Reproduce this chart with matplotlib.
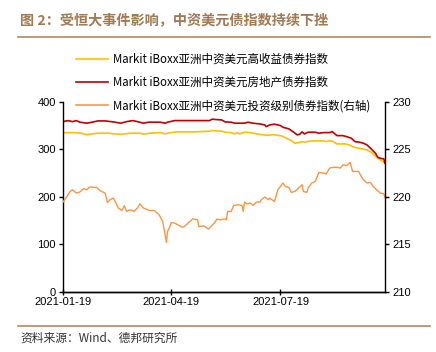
import matplotlib
matplotlib.use("Agg")
import matplotlib.pyplot as plt
import matplotlib.dates as mdates
from matplotlib.lines import Line2D
import pandas as pd

plt.rcParams['font.family'] = ['Noto Sans CJK SC', 'DejaVu Sans']

START = "2021-01-19"
END_DAY = 268

# Day offsets from START and index values
hy_day = [0, 10, 15, 20, 24, 29, 38, 43, 49, 56, 64, 67, 72, 81, 85, 87, 94, 108, 122, 124,
          132, 135, 140, 143, 145, 147, 151, 156, 161, 167, 170, 175, 182, 186, 190, 193, 196,
          199, 201, 206, 210, 217, 219, 222, 225, 228, 235, 238, 242, 249, 253, 257, 261, 265, 268]
hy_val = [335.4, 335.4, 334.2, 331.2, 332.7, 334.2, 334.2, 332.7, 332.1, 334.2, 334.2, 332.1,
          334.2, 335.4, 332.7, 334.2, 336.9, 336.9, 338.4, 339.7, 338.4, 336.3, 335.4, 332.7,
          335.4, 332.7, 336.3, 335.4, 332.7, 330.6, 329.7, 331.2, 328.5, 323.6, 318.6, 313.1,
          314.3, 316.5, 315.2, 318.0, 318.0, 318.0, 316.5, 318.6, 316.5, 311.6, 311.6, 309.5,
          304.6, 301.1, 299.0, 293.2, 283.5, 276.4, 270.9]

re_day = [0, 4, 8, 11, 14, 20, 24, 29, 35, 42, 48, 53, 58, 62, 67, 71, 76, 81, 85, 87, 93, 108,
          122, 124, 132, 135, 140, 143, 151, 154, 158, 164, 168, 169, 172, 176, 181, 183, 188,
          192, 195, 197, 199, 201, 204, 210, 213, 217, 222, 224, 225, 228, 233, 236, 240, 243,
          247, 250, 253, 256, 260, 262, 264, 267, 268]
re_val = [358.6, 360.8, 358.6, 360.8, 357.4, 355.3, 357.4, 360.1, 360.1, 358.0, 355.3, 358.6,
          360.8, 358.6, 355.3, 357.4, 357.4, 357.4, 355.3, 357.4, 360.8, 360.8, 360.8, 363.7,
          362.2, 358.0, 357.4, 355.3, 355.3, 357.4, 355.3, 353.8, 351.5, 348.1, 351.7, 353.2,
          350.3, 346.8, 343.3, 336.3, 330.6, 332.1, 336.9, 332.7, 336.3, 336.3, 334.2, 335.5,
          335.5, 337.6, 335.5, 329.1, 329.1, 327.0, 323.6, 316.5, 315.2, 313.1, 309.5, 302.5,
          292.0, 283.5, 281.4, 279.9, 270.9]

ig_day = [0, 6, 8, 11, 14, 17, 20, 22, 28, 31, 35, 37, 39, 42, 46, 49, 51, 53, 56, 59, 62, 64,
          67, 72, 76, 80, 83, 85, 86, 87, 89, 90, 93, 99, 101, 108, 112, 113, 117, 121, 126, 128,
          131, 135, 136, 137, 140, 142, 146, 149, 150, 151, 153, 156, 158, 161, 164, 165, 168,
          171, 172, 175, 176, 179, 181, 183, 185, 188, 190, 193, 196, 199, 200, 203, 204, 207,
          210, 213, 215, 217, 219, 222, 225, 228, 231, 233, 236, 239, 241, 243, 246, 249, 250,
          253, 256, 258, 261, 264, 267, 268]
ig_val = [219.45, 220.57, 220.75, 220.40, 220.51, 220.86, 220.75, 221.04, 220.99, 220.64, 220.40,
          219.41, 219.69, 219.87, 218.82, 218.56, 219.06, 218.46, 218.64, 218.46, 218.82, 219.27,
          218.82, 218.56, 218.56, 218.11, 217.40, 216.00, 215.20, 216.34, 216.87, 217.29, 217.23,
          216.81, 216.87, 217.68, 217.58, 216.87, 216.94, 216.60, 217.23, 217.65, 217.58, 217.68,
          217.58, 218.46, 218.46, 219.09, 219.16, 219.09, 218.46, 219.45, 219.27, 219.34, 219.09,
          219.45, 219.45, 219.69, 219.98, 219.69, 219.87, 219.59, 219.51, 220.82, 221.10, 221.46,
          221.10, 220.99, 220.47, 220.57, 220.93, 221.28, 220.57, 220.47, 220.93, 221.46, 221.63,
          222.58, 222.52, 222.52, 222.41, 223.04, 223.11, 223.11, 223.04, 223.39, 223.29, 223.64,
          222.68, 222.68, 222.68, 221.99, 221.81, 221.46, 221.52, 221.10, 220.75, 220.40, 220.33,
          219.94]

labels = ["Markit iBoxx亚洲中资美元高收益债券指数",
          "Markit iBoxx亚洲中资美元房地产债券指数",
          "Markit iBoxx亚洲中资美元投资级别债券指数(右轴)"]
colors = ["#FFC000", "#C00000", "#F79646"]
xticks = ["2021-01-19", "2021-04-19", "2021-07-19"]

title = "图 2：受恒大事件影响，中资美元债指数持续下挫"
source = "资料来源：Wind、德邦研究所"

start = pd.Timestamp(START)
to_dates = lambda d: start + pd.to_timedelta(d, unit="D")

fig = plt.figure(figsize=(4.36, 3.52), dpi=100)
ax = fig.add_axes([63 / 436, 1 - 291.7 / 352, (385 - 63) / 436, (291.7 - 102) / 352])
ax2 = ax.twinx()

ax.plot(to_dates(hy_day), hy_val, color=colors[0], lw=1.2)
ax.plot(to_dates(re_day), re_val, color=colors[1], lw=1.2)
ax2.plot(to_dates(ig_day), ig_val, color=colors[2], lw=1.0)

ax.set_ylim(0, 400)
ax.set_yticks([0, 100, 200, 300, 400])
ax2.set_ylim(210, 230)
ax2.set_yticks([210, 215, 220, 225, 230])
ax.set_xlim(start, to_dates(END_DAY))
ax.set_xticks(pd.to_datetime(xticks))
ax.xaxis.set_major_formatter(mdates.DateFormatter("%Y-%m-%d"))

for a in (ax, ax2):
    a.spines['top'].set_visible(False)
    for s in a.spines.values():
        s.set_color("#000000")
        s.set_linewidth(1.0)
    a.tick_params(axis='both', length=3, width=1.0, labelsize=8, pad=2,
                  labelcolor="#000000")
    for lab in a.get_xticklabels() + a.get_yticklabels():
        lab.set_fontfamily(['Liberation Sans', 'DejaVu Sans'])
ax2.spines['left'].set_visible(False)
ax.spines['right'].set_visible(False)
ax.tick_params(axis='x', direction='inout', length=4)

handles = [Line2D([], [], color=c, lw=1.2) for c in colors]
fig.legend(handles, labels, loc='upper left', bbox_to_anchor=(76 / 436, 1 - 53 / 352),
           frameon=False, fontsize=8.3, borderpad=0, borderaxespad=0,
           handlelength=2.8, handletextpad=0.45, labelspacing=0.88)

fig.text(20 / 436, 1 - 20 / 352, title, fontsize=10.2, fontweight='bold', color="#A07A52",
         va='center', ha='left')
fig.add_artist(Line2D([18 / 436, 430 / 436], [1 - 36.5 / 352, 1 - 36.5 / 352],
                      color="#B08A63", lw=1.2))
fig.add_artist(Line2D([18 / 436, 430 / 436], [1 - 325.5 / 352, 1 - 325.5 / 352],
                      color="#B08A63", lw=1.2))
fig.text(20 / 436, 1 - 338 / 352, source, fontsize=8.5, color="#333333",
         va='center', ha='left')

fig.savefig("out.png", dpi=100)
